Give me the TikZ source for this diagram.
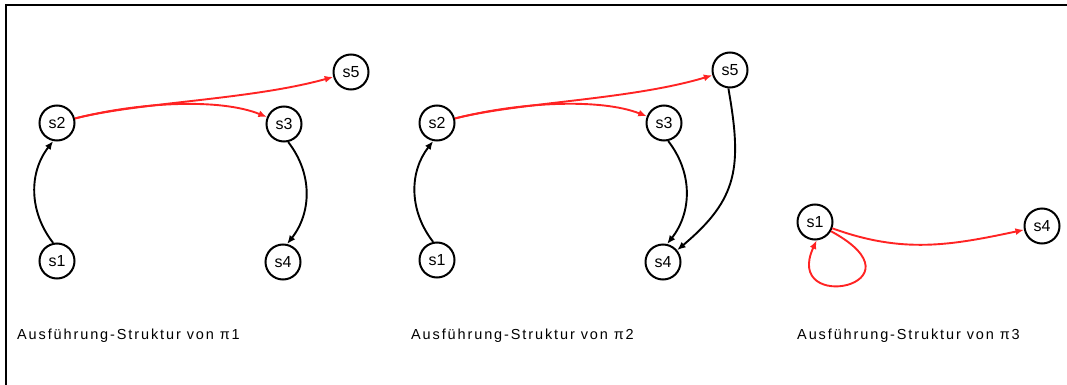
\documentclass[tikz,border=0pt]{standalone}
\usepackage{fontspec}
\setmainfont{Liberation Sans}
\newfontfamily\captionfont[LetterSpace=13]{Liberation Sans}
\usetikzlibrary{arrows.meta}
\definecolor{edgered}{RGB}{255,35,35}

\tikzset{
  stnode/.style={circle, draw=black, line width=2pt, fill=white,
    minimum size=35pt, inner sep=0pt, font=\fontsize{16}{16}\selectfont},
  flow/.style={line width=1.9pt, -{Latex[length=8.5pt,width=7pt]}},
  redflow/.style={flow, color=edgered},
  caption/.style={anchor=base west, inner sep=0pt,
    font=\captionfont\fontsize{14.5}{16}\selectfont},
}

\begin{document}
\begin{tikzpicture}[x=1pt, y=1pt]
  \useasboundingbox (0,0) rectangle (1067,-385);
  % frame
  \draw[line width=2pt] (6,-385) -- (6,-5) -- (1067,-5);

  % ---- structure of pi1
  \node[stnode] (a1) at (57,-261) {s1};
  \node[stnode] (a2) at (57,-123) {s2};
  \node[stnode] (a3) at (284,-124) {s3};
  \node[stnode] (a4) at (283,-262) {s4};
  \node[stnode] (a5) at (351,-72) {s5};
  \draw[flow] (a1.102) to[out=128, in=232] (a2.-102);
  \draw[flow] (a3.-77) to[out=-52, in=52] (a4.77);
  \draw[redflow] (a2) .. controls (140,-102) and (220,-98) .. (a3);
  \draw[redflow] (a2) .. controls (140,-102) and (250,-100) .. (a5);
  \node[caption] (capa) at (17,-339) {Ausführung-Struktur von π1};

  % ---- structure of pi2
  \node[stnode] (b1) at (437,-260) {s1};
  \node[stnode] (b2) at (437,-123) {s2};
  \node[stnode] (b3) at (664,-123) {s3};
  \node[stnode] (b4) at (663,-262) {s4};
  \node[stnode] (b5) at (730,-70) {s5};
  \draw[flow] (b1.102) to[out=128, in=232] (b2.-102);
  \draw[flow] (b3.-77) to[out=-52, in=52] (b4.77);
  \draw[flow] (b5.-95) to[out=-80, in=40, looseness=1.2] (b4);
  \draw[redflow] (b2) .. controls (520,-102) and (600,-98) .. (b3);
  \draw[redflow] (b2) .. controls (520,-102) and (630,-100) .. (b5);
  \node[caption] (capb) at (411,-339) {Ausführung-Struktur von π2};

  % ---- structure of pi3
  \node[stnode] (c1) at (815,-222) {s1};
  \node[stnode] (c4) at (1042,-226) {s4};
  \draw[redflow] (c1) to[out=-20, in=192] (c4);
  \draw[redflow] (c1.-30) .. controls (930,-285) and (782,-315) .. (c1.-85);
  \node[caption] (capc) at (797,-339) {Ausführung-Struktur von π3};
\end{tikzpicture}
\end{document}
